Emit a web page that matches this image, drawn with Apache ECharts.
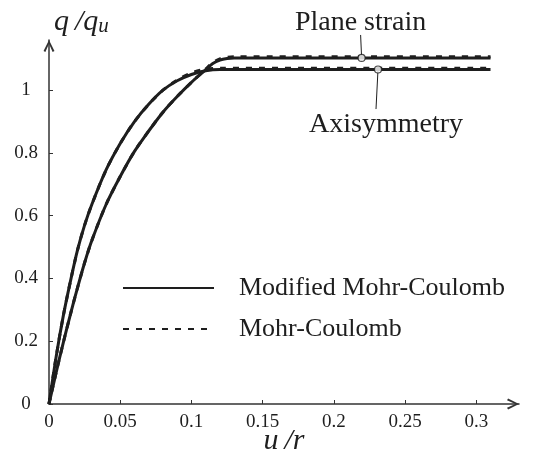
<!DOCTYPE html>
<html>
<head>
<meta charset="utf-8">
<script src="https://cdn.jsdelivr.net/npm/echarts@6/dist/echarts.min.js"></script>
<style>html,body{margin:0;padding:0;background:#fff;}#c{width:539px;height:458px;}</style>
</head>
<body>
<div id="c"></div>
<script>
// ---- data ----
const xTicks = [0, 0.05, 0.1, 0.15, 0.2, 0.25, 0.3];
const yTicks = [0, 0.2, 0.4, 0.6, 0.8, 1];

// Axisymmetry
const uAxi     = [0, 0.005, 0.01, 0.015, 0.02, 0.025, 0.03, 0.04, 0.05, 0.06, 0.07, 0.08, 0.09, 0.10, 0.11, 0.12, 0.31];
const qAxiMMC  = [0, 0.15, 0.28, 0.39, 0.49, 0.57, 0.635, 0.745, 0.83, 0.90, 0.955, 1.00, 1.03, 1.05, 1.062, 1.066, 1.066];
const qAxiMC   = [0, 0.15, 0.28, 0.39, 0.49, 0.57, 0.635, 0.745, 0.83, 0.90, 0.955, 1.00, 1.032, 1.055, 1.067, 1.070, 1.070];

// Plane strain
const uPS      = [0, 0.005, 0.01, 0.015, 0.02, 0.025, 0.03, 0.04, 0.05, 0.06, 0.07, 0.08, 0.09, 0.10, 0.11, 0.115, 0.12, 0.125, 0.13, 0.31];
const qPSMMC   = [0, 0.10, 0.195, 0.285, 0.37, 0.45, 0.52, 0.635, 0.725, 0.805, 0.87, 0.93, 0.98, 1.025, 1.065, 1.085, 1.096, 1.101, 1.103, 1.103];
const qPSMC    = [0, 0.10, 0.195, 0.285, 0.37, 0.45, 0.52, 0.635, 0.725, 0.805, 0.87, 0.93, 0.98, 1.025, 1.067, 1.088, 1.100, 1.105, 1.107, 1.107];

// annotations: marker point and leader end point
const psMarker  = [0.2195, 1.103];
const psLeadEnd = [0.2188, 1.176];
const axMarker  = [0.231, 1.066];
const axLeadEnd = [0.2296, 0.94];
const legendNames = ['Modified Mohr-Coulomb', 'Mohr-Coulomb'];

function zip(xs, ys) { return xs.map((x, i) => [x, ys[i]]); }

const INK = '#1e1e1e';
const SERIF = 'Liberation Serif';
const arrow = 'path://M0,12 L6,0 L12,12 L10,13.2 L6,4 L2,13.2 Z';

const solidStyle = { color: INK, width: 3 };
const dashStyle = { color: INK, width: 3, type: [6, 7] };
const annoLabel = { fontFamily: SERIF, fontSize: 28, color: INK, opacity: 1, textBorderWidth: 0 };

const chart = echarts.init(document.getElementById('c'), null, { renderer: 'canvas' });
chart.setOption({
  animation: false,
  backgroundColor: '#fff',
  grid: { left: 49, right: 20, top: 40, bottom: 54, containLabel: false, outerBoundsMode: 'none' },
  xAxis: {
    type: 'value', min: 0, max: 0.33,
    name: '{i|u\u2009/r}', nameLocation: 'middle', nameGap: 22, nameMoveOverlap: false,
    nameTextStyle: { rich: { i: { fontFamily: SERIF, fontStyle: 'italic', fontSize: 30, color: INK } } },
    axisLine: { show: true, onZero: false, lineStyle: { color: '#333', width: 1.5 },
      symbol: ['none', arrow], symbolSize: [16, 12], symbolOffset: [0, -6] },
    axisTick: { show: true, inside: true, length: 4, lineStyle: { color: '#333', width: 1 }, customValues: xTicks },
    axisLabel: { customValues: xTicks, fontFamily: SERIF, fontSize: 19, color: INK, margin: 9 },
    splitLine: { show: false }
  },
  yAxis: {
    type: 'value', min: 0, max: 1.16,
    name: '{i|q\u2009/q}{s|u}', nameLocation: 'end', nameGap: 3,
    nameTextStyle: { align: 'left', verticalAlign: 'bottom', padding: [0, 0, 0, 5],
      rich: {
        i: { fontFamily: SERIF, fontStyle: 'italic', fontSize: 30, color: INK },
        s: { fontFamily: SERIF, fontStyle: 'italic', fontSize: 21, color: INK, padding: [9, 0, 0, 0] }
      } },
    axisLine: { show: true, onZero: false, lineStyle: { color: '#333', width: 1.5 },
      symbol: ['none', arrow], symbolSize: [16, 12], symbolOffset: [0, -6] },
    axisTick: { show: true, inside: true, length: 4, lineStyle: { color: '#333', width: 1 }, customValues: yTicks },
    axisLabel: { customValues: yTicks, fontFamily: SERIF, fontSize: 19, color: INK, align: 'center', margin: 23 },
    splitLine: { show: false }
  },
  legend: {
    data: legendNames, orient: 'vertical', left: 122, top: 275, padding: 0,
    itemWidth: 91, itemHeight: 14, itemGap: 15,
    itemStyle: { opacity: 0 },
    textStyle: { fontFamily: SERIF, fontSize: 26, color: INK, padding: [0, 0, 0, 20] }
  },
  series: [
    { name: 'Modified Mohr-Coulomb', type: 'line', symbol: 'none', smooth: 0.3, data: zip(uAxi, qAxiMMC), lineStyle: solidStyle, itemStyle: { color: INK }, z: 2 },
    { name: 'Modified Mohr-Coulomb', type: 'line', symbol: 'none', smooth: 0.3, data: zip(uPS, qPSMMC), lineStyle: solidStyle, itemStyle: { color: INK }, z: 2 },
    { name: 'Mohr-Coulomb', type: 'line', symbol: 'none', smooth: 0.3, data: zip(uAxi, qAxiMC), lineStyle: dashStyle, itemStyle: { color: INK }, z: 3 },
    { name: 'Mohr-Coulomb', type: 'line', symbol: 'none', smooth: 0.3, data: zip(uPS, qPSMC), lineStyle: dashStyle, itemStyle: { color: INK }, z: 3 },
    { name: 'ps-leader', type: 'line', symbol: 'none', clip: false, z: 4,
      lineStyle: { color: INK, width: 1 }, data: [psMarker, psLeadEnd] },
    { name: 'ax-leader', type: 'line', symbol: 'none', clip: false, z: 4,
      lineStyle: { color: INK, width: 1 }, data: [axMarker, axLeadEnd] },
    { name: 'annotations', type: 'scatter', symbolSize: 0.1, z: 5, clip: false, silent: true,
      itemStyle: { color: INK, opacity: 1 },
      data: [
        { value: psLeadEnd, label: Object.assign({ show: true, position: 'top', distance: -2, formatter: 'Plane strain' }, annoLabel) },
        { value: axLeadEnd, label: Object.assign({ show: true, position: 'bottom', distance: 2, offset: [10, 0], formatter: 'Axisymmetry' }, annoLabel) }
      ] },
    { name: 'markers', type: 'scatter', symbol: 'circle', symbolSize: 7, z: 6, clip: false,
      itemStyle: { color: '#fff', borderColor: INK, borderWidth: 1.2 },
      data: [psMarker, axMarker] }
  ]
});
</script>
</body>
</html>
